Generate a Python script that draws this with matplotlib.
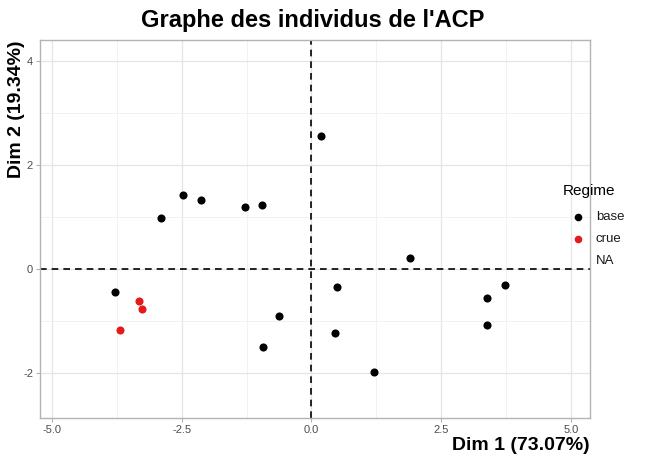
import matplotlib
matplotlib.use("Agg")
import matplotlib.pyplot as plt
import numpy as np

plt.rcParams['font.family'] = ['Liberation Sans', 'DejaVu Sans']

dim1 = [0.18, -2.48, -2.13, -2.90, -1.28, -0.95, 1.90, -3.79, 0.49, -0.63, 0.45, -0.93, 1.20, 3.73, 3.38, 3.38,
        -3.32, -3.27, -3.69]
dim2 = [2.56, 1.42, 1.33, 0.98, 1.19, 1.23, 0.21, -0.44, -0.35, -0.90, -1.23, -1.50, -1.98, -0.31, -0.56, -1.08,
        -0.62, -0.77, -1.17]
regime = ['base'] * 16 + ['crue'] * 3
colors = {'base': '#000000', 'crue': '#E41A1C'}

xticks = [-5.0, -2.5, 0.0, 2.5, 5.0]
xticklabels = ['-5.0', '-2.5', '0.0', '2.5', '5.0']
yticks = [-2, 0, 2, 4]
yticklabels = ['-2', '0', '2', '4']

fig = plt.figure(figsize=(6.45, 4.59), dpi=100)
W, H = 645, 459
left, right, top, bottom = 40, 590, 40, 418
ax = fig.add_axes([left / W, 1 - bottom / H, (right - left) / W, (bottom - top) / H])

ax.set_xlim(-5.23, 5.37)
ax.set_ylim(-2.87, 4.40)

ax.set_xticks(xticks)
ax.set_xticklabels(xticklabels)
ax.set_yticks(yticks)
ax.set_yticklabels(yticklabels)
ax.set_xticks([-3.75, -1.25, 1.25, 3.75], minor=True)
ax.set_yticks([-1, 1, 3], minor=True)
ax.grid(True, which='major', color='#E5E5E5', linewidth=0.9)
ax.grid(True, which='minor', color='#F0F0F0', linewidth=0.6)
ax.set_axisbelow(True)
ax.tick_params(which='major', colors='#B3B3B3', labelcolor='#4D4D4D', labelsize=8, length=3, width=0.8, pad=2)
ax.tick_params(which='minor', length=0)
for s in ax.spines.values():
    s.set_color('#B3B3B3')
    s.set_linewidth(1.0)

ax.axhline(0, color='black', linestyle=(0, (4, 3)), linewidth=1.2)
ax.axvline(0, color='black', linestyle=(0, (4, 3)), linewidth=1.2)

for r in ['base', 'crue']:
    xs = [x for x, g in zip(dim1, regime) if g == r]
    ys = [y for y, g in zip(dim2, regime) if g == r]
    ax.scatter(xs, ys, s=34, color=colors[r], zorder=3, linewidths=0)

fig.text(313 / W, 1 - 20 / H, "Graphe des individus de l'ACP", ha='center', va='center',
         fontsize=17, fontweight='bold')
fig.text(right / W, 1 - 445 / H, "Dim 1 (73.07%)", ha='right', va='center', fontsize=14, fontweight='bold')
fig.text(17 / W, 1 - top / H, "Dim 2 (19.34%)", ha='center', va='top', rotation=90, fontsize=14,
         fontweight='bold')

# legend
fig.text(563 / W, 1 - 191 / H, "Regime", ha='left', va='center', fontsize=11)
lax = fig.add_axes([0, 0, 1, 1], facecolor='none')
lax.set_xlim(0, W)
lax.set_ylim(H, 0)
lax.axis('off')
lax.scatter([578], [217], s=30, color=colors['base'], linewidths=0)
lax.scatter([578], [239], s=30, color=colors['crue'], linewidths=0)
fig.text(596 / W, 1 - 217 / H, "base", ha='left', va='center', fontsize=9.5, color='#1A1A1A')
fig.text(596 / W, 1 - 239 / H, "crue", ha='left', va='center', fontsize=9.5, color='#1A1A1A')
fig.text(596 / W, 1 - 261 / H, "NA", ha='left', va='center', fontsize=9.5, color='#1A1A1A')

fig.savefig("out.png", dpi=100)
